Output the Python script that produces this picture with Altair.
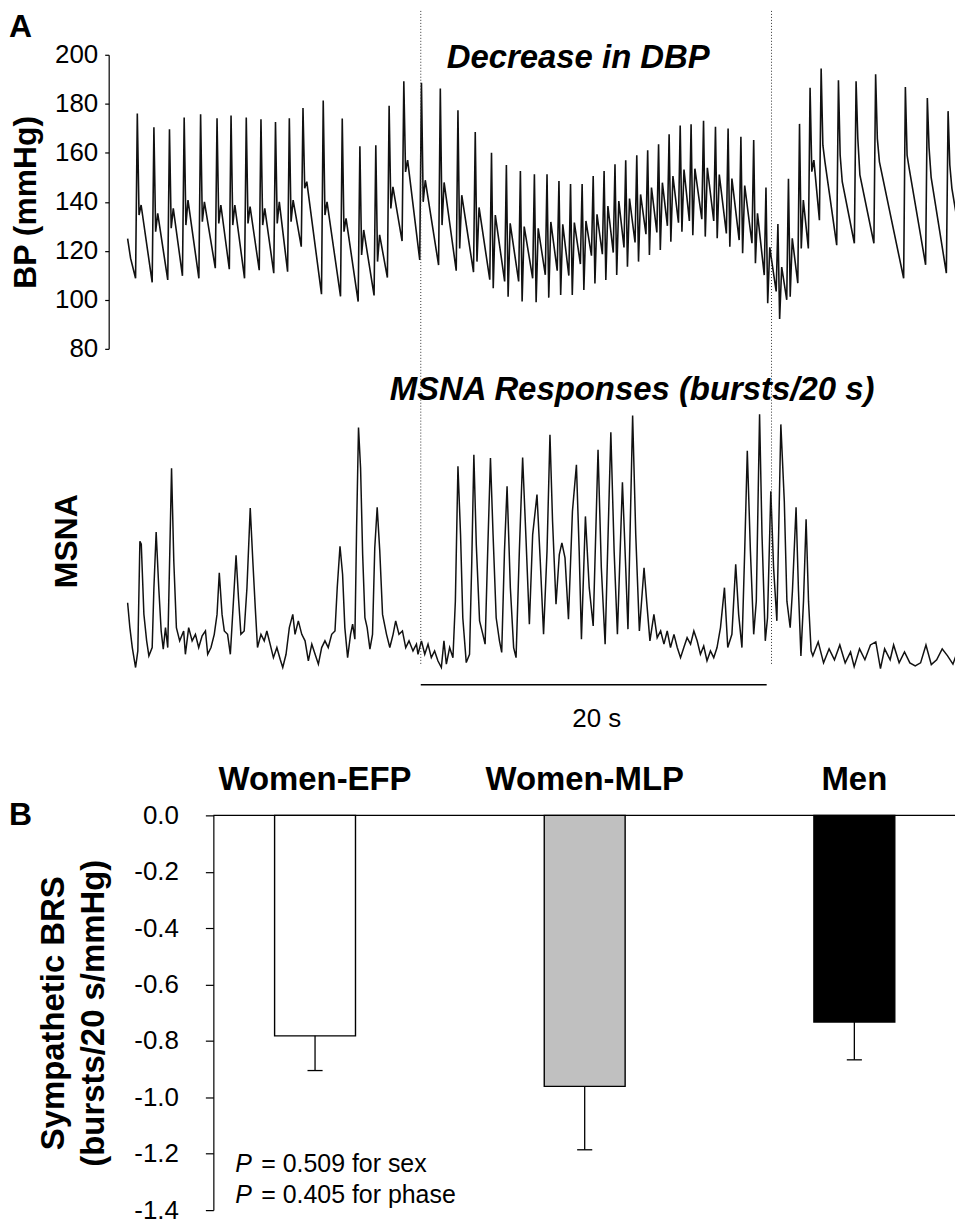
import altair as alt
import pandas as pd

FONT = "Liberation Sans"

# ---------------- Panel A: arterial pressure, read beat by beat (s, mmHg) ----------------
lead_t = [0.00, 0.17]
lead_bp = [125.0, 117.0]
beat_t = [0.56, 1.52, 2.42, 3.27, 4.22, 5.17, 5.98, 6.86, 7.71, 8.55,
          9.35, 10.14, 11.31, 12.41, 13.43, 14.35, 15.12, 15.97, 16.99, 18.08,
          19.10, 20.10, 21.04, 21.90, 22.71, 23.52, 24.25, 24.94, 25.61, 26.28,
          26.92, 27.55, 28.18, 28.80, 29.44, 30.07, 30.70, 31.31, 31.95, 32.58,
          33.30, 33.99, 34.72, 35.46, 36.20, 36.91, 37.60, 38.21, 38.85, 39.46,
          40.10, 41.10, 42.12, 43.25, 44.97, 46.24, 47.44]
beat_sys = [176.0, 170.4, 169.6, 174.4, 175.7, 174.1, 175.2, 174.4, 173.7, 172.6,
            174.1, 178.3, 181.3, 174.0, 162.7, 163.1, 179.2, 189.2, 188.6, 186.2,
            177.4, 168.5, 160.0, 155.0, 152.6, 151.2, 151.2, 148.5, 147.3, 147.3,
            150.5, 152.6, 155.3, 157.0, 159.0, 161.0, 163.5, 167.6, 171.1, 171.6,
            173.1, 170.6, 169.9, 166.5, 165.2, 145.8, 130.9, 149.4, 171.8, 186.5,
            194.4, 189.6, 189.2, 192.0, 186.8, 182.4, 177.0]
beat_notch = [134.6, 127.8, 129.2, 130.5, 131.9, 131.2, 130.5, 131.2, 130.5, 131.2,
              131.9, 145.5, 134.6, 127.8, 118.3, 115.6, 137.3, 152.2, 140.0, 130.5,
              121.0, 115.6, 104.7, 101.3, 99.3, 99.0, 100.9, 102.0, 102.0, 104.0,
              106.7, 108.1, 110.1, 113.5, 115.6, 118.3, 120.3, 123.7, 127.8, 126.4,
              125.8, 125.1, 121.7, 119.0, 114.9, 98.6, 92.2, 101.3, 121.0, 152.3,
              163.1, 159.0, 165.8, 165.8, 159.0, 162.0, 155.0]
beat_bump = [138.7, 135.3, 137.3, 140.7, 140.0, 138.7, 138.7, 138.0, 137.3, 140.0,
             140.7, 148.2, 140.0, 133.2, 128.5, 126.5, 146.1, 157.0, 148.8, 147.9,
             142.7, 137.7, 134.6, 131.2, 129.9, 129.2, 131.8, 130.8, 131.5, 132.2,
             134.9, 138.3, 140.3, 141.3, 143.0, 145.8, 147.8, 150.5, 153.2, 153.5,
             153.9, 151.1, 149.5, 146.6, 135.3, 121.4, 113.4, 125.1, 140.7, 157.0,
             156.3, 148.2, 151.0, 156.3, 153.6, 150.0, 145.5]
beat_dia = [108.8, 107.1, 108.1, 109.8, 108.8, 112.9, 112.5, 108.8, 112.1, 110.9,
            111.5, 121.7, 102.3, 101.4, 99.3, 101.8, 109.1, 124.0, 116.3, 114.2,
            111.9, 111.3, 108.2, 107.5, 107.5, 108.8, 110.2, 111.9, 109.9, 114.6,
            118.0, 118.6, 119.3, 121.4, 123.4, 126.8, 127.5, 130.2, 131.5, 132.2,
            132.9, 132.2, 127.1, 124.4, 123.1, 110.1, 103.4, 100.0, 106.8, 121.0,
            132.5, 122.3, 123.1, 123.1, 108.8, 114.3, 110.9]
tail_t = [48.30]
tail_bp = [118.3]

# ---------------- Panel A: integrated MSNA (arbitrary units) ----------------
msna_t = [0.00, 0.13, 0.27, 0.46, 0.59, 0.71, 0.79, 0.94, 1.10, 1.23,
          1.42, 1.52, 1.65, 1.80, 1.94, 2.06, 2.19, 2.32, 2.44, 2.54,
          2.67, 2.82, 3.01, 3.24, 3.34, 3.53, 3.73, 3.92, 4.11, 4.31,
          4.50, 4.63, 4.82, 5.01, 5.17, 5.30, 5.46, 5.59, 5.78, 5.94,
          6.13, 6.27, 6.41, 6.55, 6.74, 6.90, 7.09, 7.24, 7.38, 7.51,
          7.71, 7.90, 8.05, 8.24, 8.43, 8.63, 8.82, 8.97, 9.16, 9.35,
          9.55, 9.68, 9.87, 10.07, 10.26, 10.45, 10.65, 10.84, 11.03, 11.22,
          11.41, 11.60, 11.80, 11.99, 12.12, 12.28, 12.43, 12.56, 12.72, 12.89,
          13.01, 13.14, 13.24, 13.35, 13.47, 13.59, 13.72, 13.85, 14.01, 14.16,
          14.29, 14.43, 14.58, 14.74, 14.97, 15.16, 15.35, 15.50, 15.69, 15.89,
          16.08, 16.27, 16.50, 16.70, 16.79, 16.99, 17.18, 17.37, 17.56, 17.75,
          17.94, 18.14, 18.29, 18.43, 18.62, 18.81, 18.95, 19.10, 19.25, 19.38,
          19.58, 19.77, 19.90, 20.02, 20.16, 20.35, 20.54, 20.67, 20.82, 20.98,
          21.13, 21.31, 21.50, 21.63, 21.79, 21.94, 22.13, 22.32, 22.46, 22.65,
          22.84, 23.04, 23.23, 23.42, 23.67, 23.86, 24.05, 24.25, 24.42, 24.57,
          24.77, 24.96, 25.11, 25.29, 25.49, 25.72, 25.95, 26.11, 26.24, 26.47,
          26.69, 26.92, 27.20, 27.39, 27.61, 27.94, 28.13, 28.32, 28.61, 28.80,
          28.93, 29.20, 29.38, 29.59, 29.86, 30.01, 30.20, 30.43, 30.62, 30.82,
          31.01, 31.20, 31.39, 31.59, 31.78, 31.97, 32.16, 32.35, 32.55, 32.74,
          32.93, 33.12, 33.31, 33.50, 33.70, 33.89, 34.08, 34.28, 34.51, 34.70,
          34.94, 35.16, 35.33, 35.52, 35.68, 35.83, 36.01, 36.20, 36.35, 36.54,
          36.68, 36.87, 37.00, 37.19, 37.35, 37.54, 37.77, 37.97, 38.12, 38.31,
          38.44, 38.65, 38.79, 38.93, 39.08, 39.23, 39.37, 39.52, 39.62, 39.93,
          40.24, 40.56, 40.87, 41.18, 41.49, 41.80, 42.01, 42.32, 42.63, 42.95,
          43.26, 43.53, 43.77, 44.09, 44.29, 44.61, 44.92, 45.23, 45.54, 45.85,
          46.16, 46.47, 46.78, 47.10, 47.41, 47.72, 48.03, 48.24]
msna_v = [28.2, 18.6, 10.9, 3.2, 9.6, 51.9, 50.8, 23.8, 13.5, 7.7,
          10.9, 34.0, 55.5, 34.0, 17.3, 10.3, 18.6, 10.9, 48.1, 80.1,
          44.2, 18.6, 13.5, 17.3, 8.3, 18.6, 13.5, 16.0, 10.9, 15.4,
          17.3, 8.3, 10.9, 16.0, 23.7, 39.7, 23.7, 17.3, 16.0, 8.3,
          30.1, 46.5, 30.1, 16.0, 17.3, 34.0, 64.7, 44.2, 26.3, 10.9,
          16.0, 13.5, 17.3, 12.2, 7.0, 10.9, 6.4, 3.2, 8.3, 18.6,
          23.7, 16.0, 21.2, 16.0, 13.5, 5.8, 12.2, 8.3, 4.5, 10.9,
          13.5, 10.9, 16.0, 17.3, 34.0, 50.0, 39.1, 18.6, 7.0, 16.0,
          19.9, 14.1, 57.0, 95.8, 80.1, 46.8, 22.4, 18.6, 10.3, 16.0,
          49.3, 65.0, 48.1, 23.7, 16.0, 10.9, 16.0, 21.2, 16.0, 17.3,
          10.9, 13.5, 9.6, 12.2, 8.3, 13.5, 8.3, 12.2, 7.0, 9.6,
          5.8, 3.2, 13.5, 4.5, 10.9, 7.0, 28.8, 80.8, 54.5, 22.4,
          5.1, 8.3, 44.2, 85.3, 50.7, 21.2, 16.0, 12.2, 48.1, 84.0,
          54.5, 22.4, 13.5, 9.0, 48.1, 73.1, 34.0, 10.9, 7.0, 48.1,
          84.2, 51.9, 19.9, 54.5, 69.9, 44.2, 16.0, 48.1, 93.0, 59.6,
          27.6, 46.8, 51.3, 45.5, 21.8, 63.5, 81.4, 48.1, 14.1, 61.5,
          34.0, 19.2, 87.2, 41.7, 12.2, 94.0, 48.1, 16.0, 74.7, 41.7,
          18.0, 100.4, 54.5, 17.3, 41.7, 28.8, 13.5, 23.7, 14.7, 17.3,
          12.2, 17.3, 10.9, 16.0, 10.9, 7.0, 10.9, 14.7, 12.2, 17.3,
          13.5, 8.3, 11.5, 5.8, 9.6, 7.0, 10.9, 18.6, 34.0, 10.9,
          16.0, 43.0, 23.7, 10.9, 48.1, 86.8, 48.1, 16.0, 28.8, 100.9,
          54.5, 13.5, 22.4, 71.2, 41.7, 21.2, 97.0, 67.3, 28.8, 18.6,
          32.7, 65.0, 32.7, 7.7, 28.8, 60.4, 28.8, 9.6, 7.7, 13.1,
          5.0, 10.4, 6.2, 11.9, 5.0, 9.2, 3.5, 10.4, 6.2, 11.9,
          13.1, 2.8, 10.4, 6.2, 11.9, 5.0, 9.2, 5.0, 3.8, 5.0,
          11.9, 4.3, 6.2, 10.4, 7.7, 4.5, 10.4, 5.0]

event_t = [16.95, 37.23]        # s, limits of the DBP-decrease window
scale_bar_t = [16.95, 36.95]    # s, 20-s calibration bar
scale_bar_label = "20 s"
bp_ticks = [80, 100, 120, 140, 160, 180, 200]

# ---------------- Panel B: sympathetic baroreflex sensitivity ----------------
groups = ["Women-EFP", "Women-MLP", "Men"]
brs_mean = [-0.782, -0.961, -0.733]
brs_se = [0.123, 0.225, 0.134]
bar_fill = ["#ffffff", "#c0c0c0", "#000000"]
brs_ticks = [0.0, -0.2, -0.4, -0.6, -0.8, -1.0, -1.2, -1.4]
p_values = ["0.509", "0.405"]
p_terms = ["sex", "phase"]

# ---------------- layout ----------------
W = 849
H_BP, H_MS, H_BAR = 295, 468, 396

one = pd.DataFrame({"k": [0]})


def label(text, x, y, size, weight="normal", style="normal", align="left",
          baseline="alphabetic", angle=0):
    return alt.Chart(one).mark_text(
        text=text, fontSize=size, fontWeight=weight, fontStyle=style,
        align=align, baseline=baseline, angle=angle, color="black", font=FONT
    ).encode(x=alt.value(x), y=alt.value(y))


t_scale = alt.Scale(domain=[-1.095, 47.84], nice=False, zero=False)

# BP table from the beat readings
bp_rows = list(zip(lead_t, lead_bp))
for t, s, n, b, d in zip(beat_t, beat_sys, beat_notch, beat_bump, beat_dia):
    bp_rows += [(t - 0.10, d), (t, s), (t + 0.10, n), (t + 0.22, b)]
bp_rows += list(zip(tail_t, tail_bp))
bp_df = pd.DataFrame(bp_rows, columns=["t", "bp"])
bp_df["i"] = range(len(bp_df))

bp_line = alt.Chart(bp_df).mark_line(color="#111111", strokeWidth=1.6, clip=True).encode(
    x=alt.X("t:Q", scale=t_scale, axis=None),
    y=alt.Y("bp:Q", scale=alt.Scale(domain=[80, 200], nice=False, zero=False),
            axis=alt.Axis(values=bp_ticks, labelFontSize=26, labelPadding=7, tickSize=4,
                          tickColor="black", domainColor="black", labelColor="black",
                          domainWidth=1.2, tickWidth=1.2, grid=False,
                          title="BP (mmHg)", titleFontSize=32, titleFontWeight="bold",
                          titleColor="black", titleAngle=270, titleBaseline="bottom",
                          titleAlign="center", titleX=-66, titleY=H_BP / 2)),
    order="i:Q",
)

ev_df = pd.DataFrame({"t": event_t})


def event_rules(y_top, y_bottom):
    return alt.Chart(ev_df).mark_rule(color="#333333", strokeWidth=1, strokeDash=[1, 2]).encode(
        x=alt.X("t:Q", scale=t_scale, axis=None),
        y=alt.value(y_top), y2=alt.value(y_bottom))


panel_bp = alt.layer(
    bp_line,
    event_rules(-44, H_BP),
    label("Decrease in DBP", 471, 13, 33, weight="bold", style="italic", align="center"),
    label("A", -100, -18, 32, weight="bold"),
).properties(width=W, height=H_BP)

msna_df = pd.DataFrame({"t": msna_t, "v": msna_v})
msna_df["i"] = range(len(msna_df))
msna_line = alt.Chart(msna_df).mark_line(color="#111111", strokeWidth=1.5, clip=True).encode(
    x=alt.X("t:Q", scale=t_scale, axis=None),
    y=alt.Y("v:Q", scale=alt.Scale(domain=[-53.85, 126.15], nice=False, zero=False), axis=None),
    order="i:Q",
)

sb_df = pd.DataFrame({"t0": [scale_bar_t[0]], "t1": [scale_bar_t[1]], "lab": [scale_bar_label]})
scale_bar = alt.Chart(sb_df).mark_rule(color="black", strokeWidth=1.6).encode(
    x=alt.X("t0:Q", scale=t_scale, axis=None), x2="t1:Q", y=alt.value(337))
scale_text = alt.Chart(sb_df).transform_calculate(tm="(datum.t0 + datum.t1) / 2").mark_text(
    fontSize=26, font=FONT, color="black", align="center", baseline="alphabetic", dx=3).encode(
    x=alt.X("tm:Q", scale=t_scale, axis=None), y=alt.value(379), text="lab:N")

panel_msna = alt.layer(
    msna_line,
    event_rules(0, 318),
    scale_bar,
    scale_text,
    label("MSNA Responses (bursts/20 s)", 525, 51, 33, weight="bold", style="italic", align="center"),
    label("MSNA", -42, 193, 32, weight="bold", align="center", baseline="middle", angle=270),
).properties(width=W, height=H_MS)

# Panel B
bar_df = pd.DataFrame({"group": groups, "pos": list(range(1, len(groups) + 1)),
                       "mean": brs_mean, "se": brs_se})
x_bar = alt.Scale(domain=[0.2347, 3.3733], nice=False, zero=False)
y_bar = alt.Scale(domain=[-1.4, 0], nice=False, zero=False)

brs_axis = alt.Axis(
    values=brs_ticks,
    labelExpr="datum.value < 0 ? '-' + format(-datum.value, '.1f') : format(datum.value, '.1f')",
    labelFontSize=26, labelPadding=27, tickSize=8, offset=-105,
    tickColor="black", domainColor="black", labelColor="black",
    domainWidth=1.2, tickWidth=1.2, grid=False,
    title=["Sympathetic BRS", "(bursts/20 s/mmHg)"],
    titleFontSize=33, titleFontWeight="bold", titleColor="black",
    titleAngle=270, titleBaseline="bottom", titleAlign="center",
    titleLineHeight=40, titleX=-143, titleY=H_BAR / 2)

bars = alt.Chart(bar_df).transform_calculate(
    x0="datum.pos - 0.15", x1="datum.pos + 0.15", z="0"
).mark_bar(stroke="black", strokeWidth=1.4).encode(
    x=alt.X("x0:Q", scale=x_bar, axis=None), x2="x1:Q",
    y=alt.Y("mean:Q", scale=y_bar, axis=brs_axis),
    y2="z:Q",
    fill=alt.Fill("group:N", scale=alt.Scale(domain=groups, range=bar_fill), legend=None),
)

err_base = alt.Chart(bar_df).transform_calculate(
    low="datum.mean - datum.se", c0="datum.pos - 0.028", c1="datum.pos + 0.028")
err = err_base.mark_rule(color="black", strokeWidth=1.3).encode(
    x=alt.X("pos:Q", scale=x_bar, axis=None),
    y=alt.Y("mean:Q", scale=y_bar, axis=brs_axis), y2="low:Q")
caps = err_base.mark_rule(color="black", strokeWidth=1.3).encode(
    x=alt.X("c0:Q", scale=x_bar, axis=None), x2="c1:Q",
    y=alt.Y("low:Q", scale=y_bar, axis=brs_axis))

zero_line = alt.Chart(one).transform_calculate(z="0").mark_rule(
    color="black", strokeWidth=1.3).encode(
    y=alt.Y("z:Q", scale=y_bar, axis=brs_axis), x=alt.value(105), x2=alt.value(W))

cat_labels = alt.Chart(bar_df).mark_text(
    fontSize=33, fontWeight="bold", font=FONT, color="black", align="center", baseline="alphabetic"
).encode(x=alt.X("pos:Q", scale=x_bar, axis=None), y=alt.value(-25), text="group:N")

p_layers = []
for k, (pv, term) in enumerate(zip(p_values, p_terms)):
    yb = 358 + 31 * k
    p_layers.append(label("P", 127, yb, 25, style="italic"))
    p_layers.append(label(f"= {pv} for {term}", 153, yb, 25))

panel_bar = alt.layer(
    bars, err, caps, zero_line, cat_labels, *p_layers,
    label("B", -100, 10, 32, weight="bold"),
).properties(width=W, height=H_BAR)

chart = alt.vconcat(panel_bp, panel_msna, panel_bar, spacing=0, bounds="flush").properties(
    padding=0
).configure(font=FONT).configure_view(stroke="transparent")

chart.save("out.html", embed_options={"renderer": "svg", "actions": False})
